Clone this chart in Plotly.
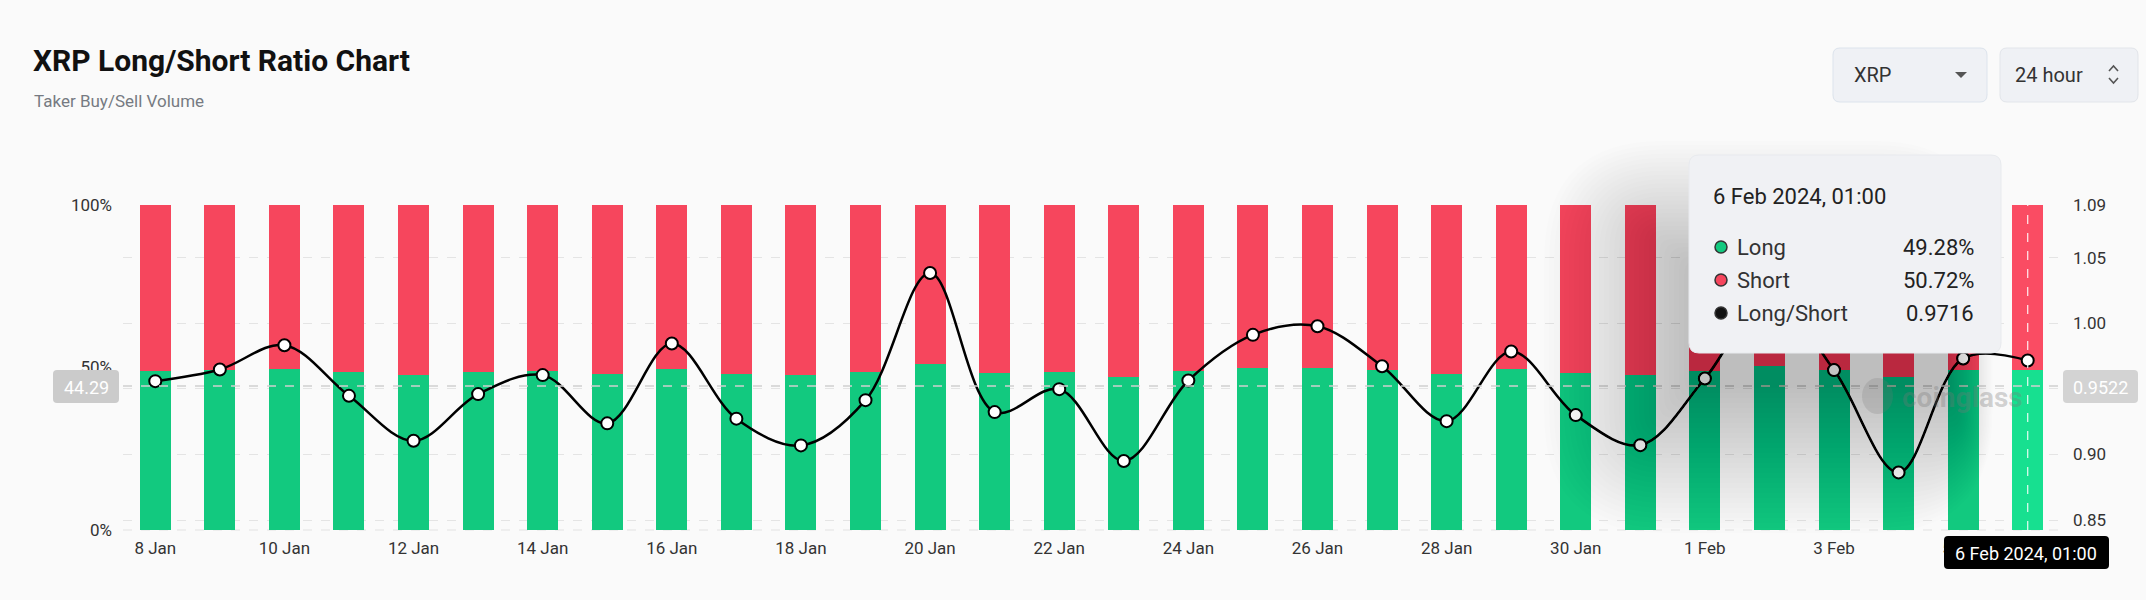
import plotly.graph_objects as go

# ---------------- data ----------------
dates = ["8 Jan", "9 Jan", "10 Jan", "11 Jan", "12 Jan", "13 Jan", "14 Jan", "15 Jan",
         "16 Jan", "17 Jan", "18 Jan", "19 Jan", "20 Jan", "21 Jan", "22 Jan", "23 Jan",
         "24 Jan", "25 Jan", "26 Jan", "27 Jan", "28 Jan", "29 Jan", "30 Jan", "31 Jan",
         "1 Feb", "2 Feb", "3 Feb", "4 Feb", "5 Feb", "6 Feb"]
long_pct = [48.87, 49.10, 49.58, 48.58, 47.66, 48.61, 48.99, 48.02,
            49.61, 48.11, 47.56, 48.49, 50.94, 48.25, 48.71, 47.23,
            48.89, 49.78, 49.94, 49.17, 48.06, 49.46, 48.19, 47.56,
            48.92, 50.50, 49.09, 46.99, 49.32, 49.28]
short_pct = [51.13, 50.90, 50.42, 51.42, 52.34, 51.39, 51.01, 51.98,
             50.39, 51.89, 52.44, 51.51, 49.06, 51.75, 51.29, 52.77,
             51.11, 50.22, 50.06, 50.83, 51.94, 50.54, 51.81, 52.44,
             51.08, 49.50, 50.91, 53.01, 50.68, 50.72]
ratio = [0.9559, 0.9648, 0.9833, 0.9447, 0.9104, 0.9460, 0.9605, 0.9237,
         0.9846, 0.9273, 0.9069, 0.9414, 1.0384, 0.9323, 0.9498, 0.8950,
         0.9564, 0.9912, 0.9978, 0.9673, 0.9254, 0.9785, 0.9300, 0.9071,
         0.9579, 1.0200, 0.9643, 0.8863, 0.9732, 0.9716]

x_tick_labels = dates[::2]
left_ticks = [0, 50, 100]
left_tick_text = ["0%", "50%", "100%"]
right_ticks = [0.85, 0.90, 0.95, 1.00, 1.05, 1.09]
right_tick_text = ["0.85", "0.90", "", "1.00", "1.05", "1.09"]

hover_date = "6 Feb 2024, 01:00"
hover_long = "49.28%"
hover_short = "50.72%"
hover_ratio = "0.9716"
cross_left = "44.29"
cross_right = "0.9522"
cross_left_val = 44.29

# ---------------- style ----------------
W, H = 2146, 600
L, R, T, B = 123, 2060, 205, 530
GREEN = "#12C97F"
RED = "#F6465D"
GREEN_HI = "#17E090"
RED_HI = "#FA4C63"
BG = "#FAFAFA"
FONT = "Roboto, Inter, sans-serif"


def px(x):
    return (x - L) / (R - L)


def py(y):
    return (B - y) / (B - T)


def rrect(x0, y0, x1, y1, r):
    r = max(0.0, min(r, (x1 - x0) / 2, (y1 - y0) / 2))

    def P(x, y):
        return f"{px(x):.6f},{py(y):.6f}"
    return (f"M {P(x0 + r, y0)} L {P(x1 - r, y0)} Q {P(x1, y0)} {P(x1, y0 + r)} "
            f"L {P(x1, y1 - r)} Q {P(x1, y1)} {P(x1 - r, y1)} "
            f"L {P(x0 + r, y1)} Q {P(x0, y1)} {P(x0, y1 - r)} "
            f"L {P(x0, y0 + r)} Q {P(x0, y0)} {P(x0 + r, y0)} Z")


green_colors = [GREEN] * (len(dates) - 1) + [GREEN_HI]
red_colors = [RED] * (len(dates) - 1) + [RED_HI]

fig = go.Figure()
fig.add_trace(go.Bar(x=dates, y=long_pct, marker=dict(color=green_colors, line=dict(width=0)),
                     name="Long", hoverinfo="skip"))
fig.add_trace(go.Bar(x=dates, y=short_pct, marker=dict(color=red_colors, line=dict(width=0)),
                     name="Short", hoverinfo="skip"))
fig.add_trace(go.Scatter(x=dates, y=ratio, yaxis="y2", mode="lines+markers", name="Long/Short",
                         line=dict(color="#000000", width=2.5, shape="spline", smoothing=1.0),
                         marker=dict(size=12, color="#FFFFFF", line=dict(color="#000000", width=2)),
                         hoverinfo="skip"))

shapes = []
ann = []

# bottom dashed baseline
shapes.append(dict(type="line", xref="paper", yref="paper", x0=0, x1=1, y0=0, y1=0,
                   line=dict(color="#E2E2E2", width=1, dash="dash"), layer="below"))
# crosshair lines
shapes.append(dict(type="line", xref="paper", yref="y", x0=0, x1=1, y0=cross_left_val, y1=cross_left_val,
                   line=dict(color="#D0D0D0", width=1.5, dash="dash"), layer="above"))
shapes.append(dict(type="line", xref="x", yref="paper", x0=dates[-1], x1=dates[-1], y0=0, y1=1,
                   line=dict(color="rgba(255,255,255,0.9)", width=1.2, dash="dash"), layer="above"))

# tooltip shadow (many faint layers -> soft gradient)
tx0, ty0, tx1, ty1 = 1689, 155, 2001, 353
sdx, sdy = -40, 75
N = 30
for k in range(N):
    e = -40 + k * 5
    x0 = tx0 + sdx - e
    x1 = tx1 + sdx + 0.3 * e
    y0 = ty0 + sdy - 0.85 * e
    y1 = ty1 + sdy + e
    shapes.append(dict(type="path", xref="paper", yref="paper",
                       path=rrect(x0, y0, x1, y1, 14 + max(e, 0)),
                       fillcolor="rgba(0,0,0,0.0075)", line=dict(width=0), layer="above"))
# tooltip box
shapes.append(dict(type="path", xref="paper", yref="paper", path=rrect(tx0, ty0, tx1, ty1, 10),
                   fillcolor="#F0F1F4", line=dict(color="#E8EAEE", width=1), layer="above"))
# tooltip markers
for cy, col in [(247, GREEN), (280, RED), (313, "#111111")]:
    shapes.append(dict(type="circle", xref="paper", yref="paper",
                       x0=px(1715), x1=px(1727), y0=py(cy + 6), y1=py(cy - 6),
                       fillcolor=col, line=dict(color="#333333", width=1.5), layer="above"))

# crosshair value labels
shapes.append(dict(type="path", xref="paper", yref="paper", path=rrect(53, 370, 119, 403, 4),
                   fillcolor="#CBCBCB", line=dict(width=0), layer="above"))
shapes.append(dict(type="path", xref="paper", yref="paper", path=rrect(2063, 370, 2138, 403, 4),
                   fillcolor="#D3D3D3", line=dict(width=0), layer="above"))
shapes.append(dict(type="path", xref="paper", yref="paper", path=rrect(1944, 536, 2109, 569, 4),
                   fillcolor="#000000", line=dict(width=0), layer="above"))

# dropdown boxes
shapes.append(dict(type="path", xref="paper", yref="paper", path=rrect(1833, 48, 1987, 102, 7),
                   fillcolor="#EFF1F5", line=dict(color="#DCE3EC", width=1), layer="above"))
shapes.append(dict(type="path", xref="paper", yref="paper", path=rrect(2000, 48, 2138, 102, 7),
                   fillcolor="#EFF1F5", line=dict(color="#E2E5EA", width=1), layer="above"))
# dropdown triangle
shapes.append(dict(type="path", xref="paper", yref="paper",
                   path=f"M {px(1955):.6f},{py(72):.6f} L {px(1967):.6f},{py(72):.6f} L {px(1961):.6f},{py(78):.6f} Z",
                   fillcolor="#555555", line=dict(width=0), layer="above"))
# up/down chevrons
shapes.append(dict(type="path", xref="paper", yref="paper",
                   path=f"M {px(2109):.6f},{py(71):.6f} L {px(2113.5):.6f},{py(66):.6f} L {px(2118):.6f},{py(71):.6f}",
                   line=dict(color="#555555", width=1.6), layer="above"))
shapes.append(dict(type="path", xref="paper", yref="paper",
                   path=f"M {px(2109):.6f},{py(78):.6f} L {px(2113.5):.6f},{py(83):.6f} L {px(2118):.6f},{py(78):.6f}",
                   line=dict(color="#555555", width=1.6), layer="above"))

# watermark blob
shapes.append(dict(type="circle", xref="paper", yref="paper",
                   x0=px(1862), x1=px(1893), y0=py(414), y1=py(378),
                   fillcolor="rgba(120,120,120,0.22)", line=dict(width=0), layer="above"))


def text(x, y, s, size, color, xanchor="left", weight="normal", family=FONT):
    ann.append(dict(xref="paper", yref="paper", x=px(x), y=py(y), text=s, showarrow=False,
                    xanchor=xanchor, yanchor="middle",
                    font=dict(size=size, color=color, family=family, weight=weight)))


text(31, 60, "XRP Long/Short Ratio Chart", 30, "#111111", weight="bold")
text(32, 101, "Taker Buy/Sell Volume", 17, "#767A82")
text(1852, 75, "XRP", 20, "#333333")
text(2013, 75, "24 hour", 20, "#333333")

text(1900, 397, "coinglass", 28, "rgba(120,120,120,0.32)", weight="bold")

text(86, 387, cross_left, 18, "#FFFFFF", xanchor="center")
text(2100, 387, cross_right, 18, "#FFFFFF", xanchor="center")
text(2026, 553, hover_date, 18, "#FFFFFF", xanchor="center")

text(1711, 197, hover_date, 22, "#222222")
text(1735, 247, "Long", 22, "#333333")
text(1735, 280, "Short", 22, "#333333")
text(1735, 313, "Long/Short", 22, "#333333")
text(1976, 247, hover_long, 22, "#222222", xanchor="right")
text(1976, 280, hover_short, 22, "#222222", xanchor="right")
text(1976, 313, hover_ratio, 22, "#222222", xanchor="right")

fig.update_layout(
    width=W, height=H,
    margin=dict(l=L, r=W - R, t=T, b=H - B, autoexpand=False),
    paper_bgcolor=BG, plot_bgcolor=BG,
    barmode="stack", bargap=0.52,
    showlegend=False, hovermode=False,
    font=dict(family=FONT, color="#333333", size=17),
    xaxis=dict(type="category", tickvals=x_tick_labels, ticktext=x_tick_labels,
               showgrid=False, zeroline=False, showline=False, ticks="",
               tickfont=dict(size=17, color="#333333"), ticklabelstandoff=6,
               range=[-0.5, len(dates) - 0.5]),
    yaxis=dict(range=[0, 100], tickvals=left_ticks, ticktext=left_tick_text,
               showgrid=False, zeroline=False, showline=False, ticks="",
               tickfont=dict(size=17, color="#333333"), ticklabelstandoff=10),
    yaxis2=dict(overlaying="y", side="right", range=[0.8424, 1.0902],
                tickvals=right_ticks, ticktext=right_tick_text,
                showgrid=True, gridcolor="#E4E4E4", gridwidth=1, griddash="dash",
                zeroline=False, showline=False, ticks="",
                tickfont=dict(size=17, color="#333333"), ticklabelstandoff=12),
    shapes=shapes,
    annotations=ann,
)

fig.write_html("out.html", config={"displayModeBar": False},
               post_script="document.body.style.margin='0px';document.body.style.background='#FAFAFA';")
